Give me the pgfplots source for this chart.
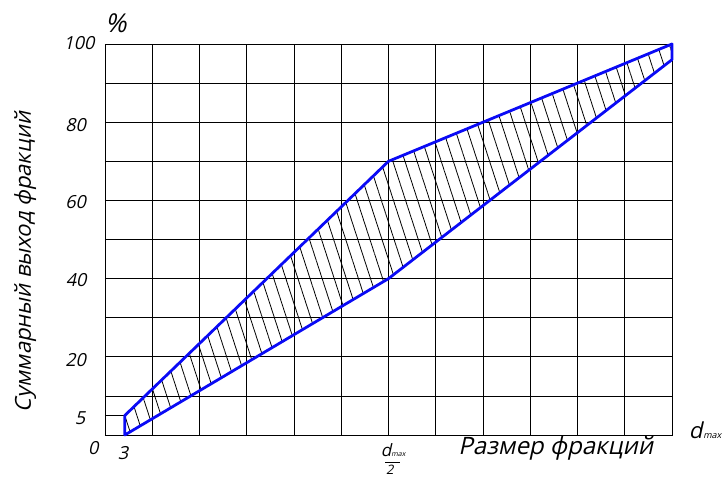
\documentclass[border=0pt]{standalone}
\usepackage{pgfplots}
\pgfplotsset{compat=1.18}
\usepackage{fontspec}
\usetikzlibrary{patterns.meta}
\setmainfont{Open Sans}[FakeSlant=0.22]
\newcommand{\lbl}{\fontsize{22bp}{24bp}\selectfont}
\newcommand{\num}{\fontsize{18bp}{20bp}\selectfont}
\definecolor{bandblue}{RGB}{10,10,245}

\begin{document}
\begin{tikzpicture}
  \begin{axis}[
    scale only axis, width=567bp, height=391bp,
    xmin=0, xmax=12, ymin=0, ymax=100,
    xtick={0,1,...,12}, ytick={0,10,...,100},
    xticklabels={}, yticklabels={}, major tick length=0pt,
    grid=major, grid style={black, line width=0.8pt},
    axis line style={black, line width=0.8pt},
    clip=false,
  ]
  % short line at 5 %
  \addplot[black, line width=0.8pt] coordinates {(0,5)(0.42,5)};
  % band between lower and upper limits
  \addplot[bandblue, line width=2.8pt, line join=round,
    pattern={Lines[angle=-72, distance=11.5bp, line width=0.8pt]}, pattern color=black]
    coordinates {(0.42,0)(6,40)(12,96)(12,100)(6,70)(0.42,5)} -- cycle;

  \node[font=\num] at (axis cs:-0.55,100.3) {100};
  \node[font=\num] at (axis cs:-0.62,79.2) {80};
  \node[font=\num] at (axis cs:-0.62,59.6) {60};
  \node[font=\num] at (axis cs:-0.61,39.6) {40};
  \node[font=\num] at (axis cs:-0.62,19.2) {20};
  \node[font=\num] at (axis cs:-0.53,4.3) {5};
  \node[font=\num] at (axis cs:-0.25,-3.3) {0};
  \node[font=\num] at (axis cs:0.38,-4.6) {3};
  \node[font=\fontsize{26bp}{28bp}\selectfont] at (axis cs:0.23,105.4) {\%};
  % d_max / 2
  \node[inner sep=0pt] at (axis cs:6.10,-3.9) {\fontsize{17bp}{17bp}\selectfont d{\fontsize{7bp}{7bp}\selectfont max}};
  \draw[black, line width=0.6pt] (axis cs:5.93,-6.9) -- (axis cs:6.25,-6.9);
  \node[inner sep=0pt, font=\fontsize{13bp}{13bp}\selectfont] at (axis cs:6.03,-8.9) {2};
  \node[font=\fontsize{24bp}{26bp}\selectfont] at (axis cs:9.54,-3.3) {Размер фракций};
  \node[font=\lbl, inner sep=1pt] at (axis cs:12.7,1.3) {d\kern1bp{\fontsize{9bp}{9bp}\selectfont max}};
  \node[font=\lbl, rotate=90] at (axis cs:-1.69,44.2) {Суммарный выход фракций};
  \end{axis}
  \path (current axis.south west) ++(-105bp,-43bp) rectangle ++(723bp,478bp);
\end{tikzpicture}
\end{document}
